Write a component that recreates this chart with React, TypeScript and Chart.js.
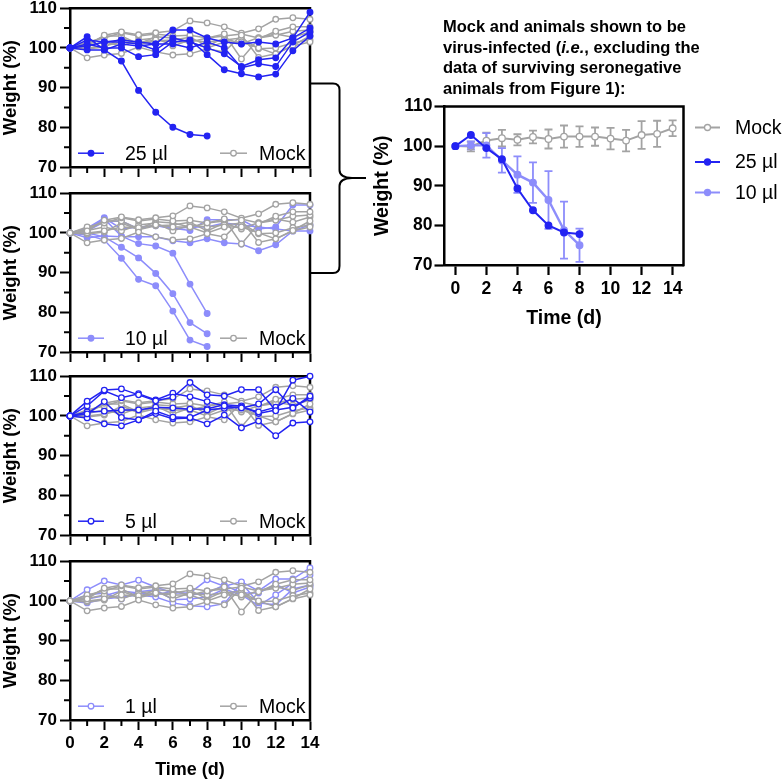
import React, { useEffect, useRef } from 'react';
import { Chart, registerables } from 'chart.js';

Chart.register(...registerables);

const FONT = '"Liberation Sans", Arial, Helvetica, sans-serif';
const DARK_BLUE = '#2323f2';
const LIGHT_BLUE = '#8d8dfb';
const GRAY = '#a3a3a3';

const days = [0, 1, 2, 3, 4, 5, 6, 7, 8, 9, 10, 11, 12, 13, 14];
const xMajorTicks = [0, 2, 4, 6, 8, 10, 12, 14];
const xMinorTicks = [1, 3, 5, 7, 9, 11, 13];
const yMajorTicks = [70, 80, 90, 100, 110];
const yMinorTicks = [75, 85, 95, 105];

const mockA = [100, 97.5, 98.2, 98.6, 100.2, 99.0, 98.2, 98.5, 99.8, 99.0, 103.2, 97.6, 98.5, 100.6, 103.0];
const mockB = [100, 100.5, 103.2, 104.0, 103.3, 103.8, 104.3, 106.8, 106.3, 105.3, 103.7, 104.8, 107.2, 107.6, 107.2];
const mockC = [100, 101.5, 102.5, 103.8, 103.0, 103.5, 103.0, 103.2, 102.5, 103.5, 97.2, 102.3, 104.2, 105.3, 105.3];
const mockD = [100, 100.0, 100.5, 101.5, 101.3, 102.0, 101.5, 101.5, 100.0, 101.5, 101.5, 100.0, 98.5, 100.5, 101.5];
const mockE = [100, 100.6, 101.5, 100.5, 102.0, 102.5, 100.5, 102.0, 101.5, 102.0, 102.5, 99.8, 100.0, 101.3, 102.0];
const mockF = [100, 101.0, 103.0, 103.0, 101.0, 102.8, 102.5, 101.5, 102.5, 103.0, 103.5, 102.5, 103.2, 104.2, 104.5];
const mockG = [100, 99.7, 100.2, 102.5, 100.8, 101.8, 102.0, 102.7, 100.5, 102.5, 101.0, 102.6, 103.5, 102.7, 104.0];

const dose25A = [100, 102.0, 101.5, 102.0, 101.5, 101.0, 104.5, 104.5, 102.5, 101.5, 101.0, 101.5, 101.0, 102.5, 109.0];
const dose25B = [100, 101.0, 100.0, 100.0, 97.8, 98.3, 101.5, 102.0, 98.3, 94.5, 93.5, 92.7, 93.4, 99.3, 103.0];
const dose25C = [100, 99.5, 99.5, 101.0, 100.5, 101.0, 101.0, 100.0, 101.5, 100.0, 95.0, 96.0, 95.3, 101.5, 104.0];
const dose25D = [100, 100.5, 101.5, 101.5, 101.0, 99.5, 102.5, 101.5, 100.0, 98.5, 95.3, 97.0, 97.5, 102.5, 105.0];
const dose25E = [100, 102.8, 99.5, 96.7, 89.3, 83.8, 80.0, 78.2, 77.8];

const dose10A = [100, 100.0, 99.0, 96.4, 93.7, 89.8, 84.7, 77.4, 74.6];
const dose10B = [100, 99.5, 98.2, 93.6, 88.3, 86.7, 80.3, 73.0, 71.4];
const dose10C = [100, 101.0, 103.5, 99.2, 97.3, 96.7, 94.9, 87.1, 79.7];
const dose10D = [100, 101.2, 103.8, 101.0, 101.5, 101.8, 101.2, 100.6, 103.3, 103.3, 103.3, 101.0, 101.5, 107.0, 107.0];
const dose10E = [100, 98.8, 99.2, 99.0, 99.0, 99.0, 98.0, 97.5, 98.5, 97.5, 97.2, 95.5, 97.0, 100.5, 102.0];
const dose10F = [100, 100.5, 102.8, 103.0, 101.0, 102.0, 101.0, 101.5, 101.5, 102.5, 102.0, 101.5, 101.0, 100.5, 100.5];

const dose5A = [100, 103.7, 106.5, 106.8, 105.3, 103.8, 104.7, 108.4, 105.3, 105.0, 106.6, 106.6, 101.3, 109.0, 110.0];
const dose5B = [100, 102.5, 106.3, 104.6, 105.6, 104.0, 105.7, 104.8, 103.6, 102.5, 102.0, 103.0, 106.6, 102.0, 105.0];
const dose5C = [100, 100.5, 103.6, 99.6, 99.0, 101.2, 99.7, 99.6, 101.5, 101.9, 102.2, 101.0, 102.2, 104.4, 101.0];
const dose5D = [100, 99.5, 98.0, 97.5, 99.0, 100.6, 99.3, 99.5, 98.0, 100.2, 97.0, 98.7, 95.0, 98.2, 98.5];
const dose5E = [100, 101.0, 101.2, 101.5, 101.5, 102.2, 102.0, 101.7, 101.8, 102.8, 102.5, 100.6, 101.5, 102.2, 104.5];

const dose1A = [100, 102.8, 105.0, 104.0, 105.2, 103.5, 102.0, 102.0, 105.3, 103.7, 104.8, 102.5, 105.5, 105.5, 108.3];
const dose1B = [100, 99.5, 100.5, 101.0, 101.5, 101.0, 99.5, 98.8, 98.5, 99.3, 104.5, 99.5, 99.0, 103.0, 104.0];
const dose1C = [100, 101.5, 102.0, 100.5, 102.3, 102.8, 100.3, 100.5, 101.0, 103.0, 101.5, 98.8, 101.5, 104.5, 106.5];
const dose1D = [100, 100.5, 101.3, 102.5, 102.0, 101.5, 102.5, 101.5, 102.0, 104.0, 102.0, 102.0, 104.2, 102.0, 103.5];

const mockMean = [100, 99.9, 101.4, 102.0, 101.6, 102.3, 101.8, 102.4, 102.4, 102.4, 101.9, 101.4, 102.8, 103.1, 104.5];
const mockSD = [0, 1.2, 2.0, 2.1, 1.4, 1.6, 2.4, 2.8, 2.6, 2.3, 2.7, 2.7, 3.5, 3.3, 2.0];
const dose25Mean = [100, 102.8, 99.5, 96.7, 89.3, 83.8, 80.0, 78.2, 77.8];
const dose10Mean = [100, 100.2, 100.2, 96.4, 92.8, 90.8, 86.4, 78.8, 75.0];
const dose10SD = [0, 1.0, 3.1, 3.1, 4.6, 5.1, 7.3, 7.2, 4.2];

const toPoints = (arr: number[]) => arr.map((y, i) => ({ x: days[i], y }));

const framePlugin = {
  id: 'frame',
  beforeDatasetsDraw(chart: any) {
    const { ctx, chartArea: a } = chart;
    ctx.save();
    ctx.strokeStyle = '#000';
    ctx.lineWidth = 2.5;
    ctx.lineCap = 'square';
    ctx.beginPath();
    ctx.moveTo(a.left, a.top);
    ctx.lineTo(a.right, a.top);
    ctx.lineTo(a.right, a.bottom);
    ctx.stroke();
    ctx.restore();
  },
};

const minorTicksPlugin = {
  id: 'minorTicks',
  afterDraw(chart: any, _args: any, opts: any) {
    const { ctx, chartArea: a, scales } = chart;
    const xs: number[] = opts.x || [];
    const ys: number[] = opts.y || [];
    if (!xs.length && !ys.length) return;
    ctx.save();
    ctx.strokeStyle = '#000';
    ctx.lineWidth = 2;
    ctx.beginPath();
    for (const v of xs) {
      const px = scales.x.getPixelForValue(v);
      ctx.moveTo(px, a.bottom);
      ctx.lineTo(px, a.bottom + opts.len);
    }
    for (const v of ys) {
      const py = scales.y.getPixelForValue(v);
      ctx.moveTo(a.left, py);
      ctx.lineTo(a.left - opts.len, py);
    }
    ctx.stroke();
    ctx.restore();
  },
};

const errorBarsPlugin = {
  id: 'errorBars',
  beforeDatasetsDraw(chart: any, _args: any, opts: any) {
    const sets = opts.sets || [];
    const { ctx, scales } = chart;
    ctx.save();
    for (const set of sets) {
      const ds = chart.data.datasets[set.index];
      ctx.strokeStyle = set.color;
      ctx.lineWidth = 1.8;
      ds.data.forEach((p: any, i: number) => {
        const sd = set.sd[i];
        if (!sd) return;
        const x = scales.x.getPixelForValue(p.x);
        const yHi = scales.y.getPixelForValue(p.y + sd);
        const yLo = scales.y.getPixelForValue(p.y - sd);
        ctx.beginPath();
        ctx.moveTo(x, yHi);
        ctx.lineTo(x, yLo);
        ctx.moveTo(x - 4, yHi);
        ctx.lineTo(x + 4, yHi);
        ctx.moveTo(x - 4, yLo);
        ctx.lineTo(x + 4, yLo);
        ctx.stroke();
      });
    }
    ctx.restore();
  },
};

const keyPlugin = {
  id: 'key',
  afterDraw(chart: any, _args: any, opts: any) {
    const items = opts.items || [];
    const { ctx, chartArea: a } = chart;
    ctx.save();
    for (const it of items) {
      const y = a.top + it.dy;
      const x0 = (it.fromRight ? a.right : a.left) + it.dx;
      ctx.strokeStyle = it.color;
      ctx.lineWidth = it.lineWidth;
      ctx.beginPath();
      ctx.moveTo(x0, y);
      ctx.lineTo(x0 + it.len, y);
      ctx.stroke();
      ctx.beginPath();
      ctx.arc(x0 + it.len / 2, y, it.r, 0, Math.PI * 2);
      ctx.fillStyle = it.filled ? it.color : '#ffffff';
      ctx.fill();
      ctx.lineWidth = 1.3;
      ctx.stroke();
      ctx.fillStyle = '#000';
      ctx.font = `19.5px ${FONT}`;
      ctx.textBaseline = 'middle';
      ctx.textAlign = 'left';
      ctx.fillText(it.label, x0 + it.textDx, y + 1);
    }
    ctx.restore();
  },
};

type Series = { data: number[]; color: string; filled: boolean };

function lineDataset(s: Series, width: number, radius: number) {
  return {
    data: toPoints(s.data),
    borderColor: s.color,
    backgroundColor: s.color,
    borderWidth: width,
    pointRadius: radius,
    pointBorderWidth: 1.3,
    pointBackgroundColor: s.filled ? s.color : '#ffffff',
    pointBorderColor: s.color,
    tension: 0,
    clip: false as const,
    fill: false,
  };
}

function leftConfig(series: Series[], doseLabel: string, doseColor: string, doseFilled: boolean, showX: boolean) {
  return {
    type: 'line' as const,
    data: { datasets: series.map((s) => lineDataset(s, 1.5, 2.8)) },
    plugins: [framePlugin, minorTicksPlugin, keyPlugin],
    options: {
      animation: false as const,
      responsive: false,
      events: [] as any[],
      layout: { padding: { left: 0, top: 12, right: 20, bottom: 0 } },
      plugins: {
        legend: { display: false },
        tooltip: { enabled: false },
        minorTicks: { x: xMinorTicks, y: yMinorTicks, len: 6 },
        key: {
          items: [
            { label: doseLabel, color: doseColor, filled: doseFilled, dx: 8, dy: 145, len: 26, r: 2.8, lineWidth: 1.5, textDx: 47 },
            { label: 'Mock', color: GRAY, filled: false, dx: 150, dy: 145, len: 27, r: 2.8, lineWidth: 1.5, textDx: 39 },
          ],
        },
      },
      scales: {
        x: {
          type: 'linear' as const,
          min: 0,
          max: 14,
          afterBuildTicks: (s: any) => { s.ticks = xMajorTicks.map((v) => ({ value: v })); },
          afterFit: (s: any) => { s.height = showX ? 63 : 14; },
          ticks: { display: showX, autoSkip: false, maxRotation: 0, padding: 3, color: '#000', font: { family: FONT, size: 17, weight: 'bold' as const } },
          grid: { drawOnChartArea: false, drawTicks: true, tickLength: 10, tickWidth: 2, tickColor: '#000' },
          border: { display: true, color: '#000', width: 2.5 },
          title: { display: showX, text: 'Time (d)', color: '#000', font: { family: FONT, size: 18, weight: 'bold' as const }, padding: { top: 0, bottom: 2 } },
        },
        y: {
          type: 'linear' as const,
          min: 70,
          max: 110,
          afterBuildTicks: (s: any) => { s.ticks = yMajorTicks.map((v) => ({ value: v })); },
          afterFit: (s: any) => { s.width = 70; },
          ticks: { padding: 3, color: '#000', font: { family: FONT, size: 17, weight: 'bold' as const } },
          grid: { drawOnChartArea: false, drawTicks: true, tickLength: 10, tickWidth: 2, tickColor: '#000' },
          border: { display: true, color: '#000', width: 2.5 },
          title: { display: true, text: 'Weight (%)', color: '#000', font: { family: FONT, size: 18.5, weight: 'bold' as const }, padding: { top: 0, bottom: 0 } },
        },
      },
    },
  };
}

function rightConfig() {
  const mockSeries = { data: mockMean, color: GRAY, filled: false };
  const s25 = { data: dose25Mean, color: DARK_BLUE, filled: true };
  const s10 = { data: dose10Mean, color: LIGHT_BLUE, filled: true };
  return {
    type: 'line' as const,
    data: {
      datasets: [
        lineDataset(s25, 2, 3.3),
        lineDataset(s10, 2.4, 3.3),
        lineDataset(mockSeries, 2, 3.3),
      ],
    },
    plugins: [framePlugin, errorBarsPlugin, keyPlugin],
    options: {
      animation: false as const,
      responsive: false,
      events: [] as any[],
      layout: { padding: { left: 11, top: 12, right: 98.5, bottom: 0 } },
      plugins: {
        legend: { display: false },
        tooltip: { enabled: false },
        errorBars: {
          sets: [
            { index: 2, sd: mockSD, color: GRAY },
            { index: 1, sd: dose10SD, color: LIGHT_BLUE },
          ],
        },
        key: {
          items: [
            { label: 'Mock', color: GRAY, filled: false, fromRight: true, dx: 11.5, dy: 21, len: 25, r: 3, lineWidth: 2, textDx: 40 },
            { label: '25 µl', color: DARK_BLUE, filled: true, fromRight: true, dx: 11.5, dy: 55.5, len: 25, r: 3, lineWidth: 2, textDx: 40 },
            { label: '10 µl', color: LIGHT_BLUE, filled: true, fromRight: true, dx: 11.5, dy: 86, len: 25, r: 3, lineWidth: 2, textDx: 40 },
          ],
        },
      },
      scales: {
        x: {
          type: 'linear' as const,
          min: -0.7,
          max: 14.7,
          afterBuildTicks: (s: any) => { s.ticks = xMajorTicks.map((v) => ({ value: v })); },
          afterFit: (s: any) => { s.height = 65; },
          ticks: { autoSkip: false, maxRotation: 0, padding: 4, color: '#000', font: { family: FONT, size: 17.5, weight: 'bold' as const } },
          grid: { drawOnChartArea: false, drawTicks: true, tickLength: 10, tickWidth: 2.2, tickColor: '#000' },
          border: { display: true, color: '#000', width: 2.5 },
          title: { display: true, text: 'Time (d)', color: '#000', font: { family: FONT, size: 19.5, weight: 'bold' as const }, padding: { top: 0, bottom: 0 } },
        },
        y: {
          type: 'linear' as const,
          min: 70,
          max: 110,
          afterBuildTicks: (s: any) => { s.ticks = yMajorTicks.map((v) => ({ value: v })); },
          afterFit: (s: any) => { s.width = 73.5; },
          ticks: { padding: 2, color: '#000', font: { family: FONT, size: 17.5, weight: 'bold' as const } },
          grid: { drawOnChartArea: false, drawTicks: true, tickLength: 10, tickWidth: 2.2, tickColor: '#000' },
          border: { display: true, color: '#000', width: 2.5 },
          title: { display: true, text: 'Weight (%)', color: '#000', font: { family: FONT, size: 19.5, weight: 'bold' as const }, padding: { top: 0, bottom: 0 } },
        },
      },
    },
  };
}

function ChartCanvas({ left, top, width, height, config }: { left: number; top: number; width: number; height: number; config: any }) {
  const ref = useRef<HTMLCanvasElement>(null);
  useEffect(() => {
    const chart = new Chart(ref.current as HTMLCanvasElement, config);
    return () => chart.destroy();
  }, []);
  return (
    <canvas
      ref={ref}
      width={width}
      height={height}
      style={{ position: 'absolute', left, top, width, height, display: 'block' }}
    />
  );
}

const mockSeriesList = (): Series[] =>
  [mockA, mockB, mockC, mockD, mockE, mockF, mockG].map((d) => ({ data: d, color: GRAY, filled: false }));

export default function App() {
  const panel1 = leftConfig(
    [
      ...[dose25A, dose25B, dose25C, dose25D, dose25E].map((d) => ({ data: d, color: DARK_BLUE, filled: true })),
      ...mockSeriesList(),
    ],
    '25 µl', DARK_BLUE, true, false,
  );
  const panel2 = leftConfig(
    [
      ...mockSeriesList(),
      ...[dose10A, dose10B, dose10C, dose10D, dose10E, dose10F].map((d) => ({ data: d, color: LIGHT_BLUE, filled: true })),
    ],
    '10 µl', LIGHT_BLUE, true, false,
  );
  const panel3 = leftConfig(
    [
      ...[dose5A, dose5B, dose5C, dose5D, dose5E].map((d) => ({ data: d, color: DARK_BLUE, filled: false })),
      ...mockSeriesList(),
    ],
    '5 µl', DARK_BLUE, false, false,
  );
  const panel4 = leftConfig(
    [
      ...mockSeriesList(),
      ...[dose1A, dose1B, dose1C, dose1D].map((d) => ({ data: d, color: LIGHT_BLUE, filled: false })),
    ],
    '1 µl', LIGHT_BLUE, false, true,
  );

  return (
    <div style={{ position: 'absolute', left: 0, top: 0, width: 782, height: 783, overflow: 'hidden', background: '#fff' }}>
      <ChartCanvas left={0} top={-5} width={330} height={186} config={panel1} />
      <ChartCanvas left={0} top={180} width={330} height={186} config={panel2} />
      <ChartCanvas left={0} top={363} width={330} height={186} config={panel3} />
      <ChartCanvas left={0} top={548} width={330} height={235} config={panel4} />
      <ChartCanvas left={360} top={94} width={422} height={236} config={rightConfig()} />
      <svg width={782} height={783} style={{ position: 'absolute', left: 0, top: 0, pointerEvents: 'none' }}>
        <path
          d="M311 83.5 L333 83.5 Q339.5 83.5 339.5 90 L339.5 170 Q339.5 177.5 352 178 L366 178 M352 178 Q339.5 178.5 339.5 186 L339.5 266 Q339.5 273 333 273 L311 273"
          fill="none"
          stroke="#000"
          strokeWidth={2}
        />
      </svg>
      <div
        style={{
          position: 'absolute',
          left: 443,
          top: 16,
          fontFamily: FONT,
          fontWeight: 'bold',
          fontSize: 16.5,
          lineHeight: '20.5px',
          color: '#000',
          whiteSpace: 'nowrap',
        }}
      >
        Mock and animals shown to be
        <br />
        virus-infected (<i>i.e.</i>, excluding the
        <br />
        data of surviving seronegative
        <br />
        animals from Figure 1):
      </div>
    </div>
  );
}
